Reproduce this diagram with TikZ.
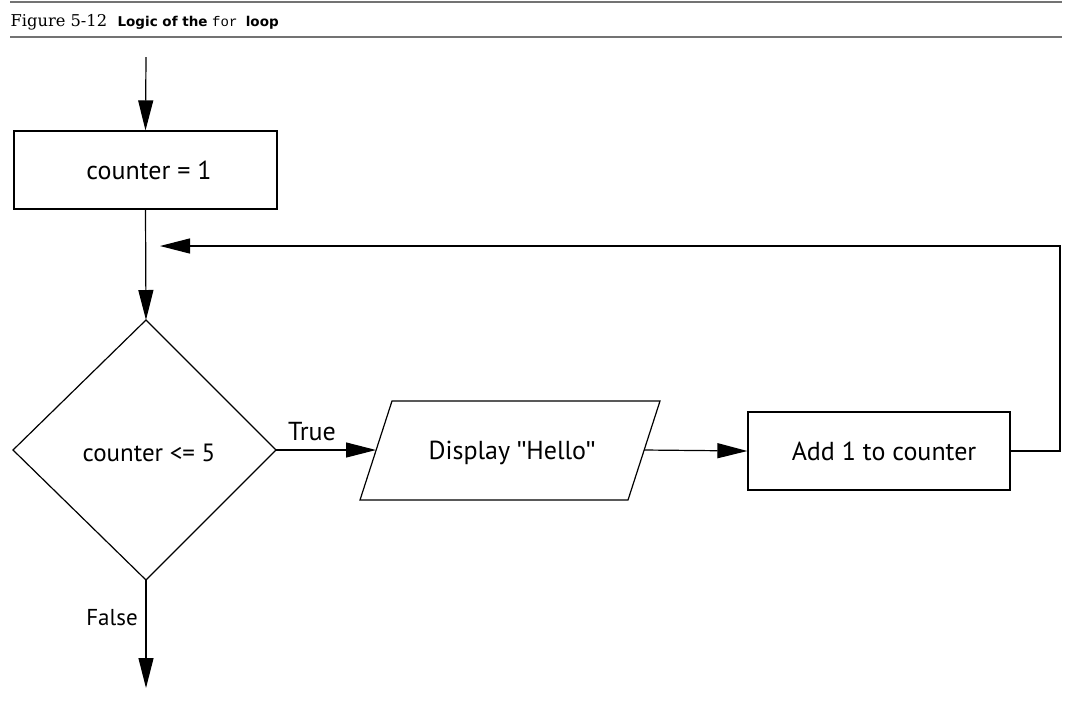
\documentclass[tikz,border=0pt]{standalone}
\usepackage{graphicx}
\usepackage{fontspec}
\setmainfont{DejaVu Serif}
\setsansfont{PT Sans}
\setmonofont{Liberation Mono}
\newfontfamily\capsans{DejaVu Sans}
\newfontfamily\qfont{Liberation Sans}
\newcommand{\sq}{{\qfont\symbol{34}}}
\usetikzlibrary{arrows.meta,shapes.geometric}
\begin{document}
\begin{tikzpicture}[x=1pt,y=-1pt,
  line width=1.2pt,
  arr/.style={-{Triangle[length=30pt,width=15pt]}},
  lbl/.style={font=\sffamily\fontsize{26}{30}\selectfont, inner sep=0pt},
  rule/.style={draw=black!55, line width=1.5pt}]
\useasboundingbox (0,0) rectangle (1086,724);
% caption rules
\draw[rule] (10,2) -- (1062,2);
\draw[rule] (10,37) -- (1062,37);
\node[anchor=base west, inner sep=0pt] (figno) at (10,26) {\scalebox{1.05}{\fontsize{15.5}{18}\selectfont Figure 5-12}};
\node[anchor=base west, inner sep=0pt] (figttl) at (117,26) {\capsans\bfseries\fontsize{13.5}{16}\selectfont Logic of the \mdseries\ttfamily\fontsize{14}{16}\selectfont for \capsans\bfseries\fontsize{13.5}{16}\selectfont loop};
% nodes
\coordinate (start) at (146,57);
\node[draw, minimum width=263pt, minimum height=78pt, inner sep=0pt] (init) at (145.5,170) {};
\node[lbl] (initT) at (149,170) {counter = 1};
\draw (146,320) -- (276,450) -- (146,580) -- (13,450) -- cycle;
\coordinate (dtop) at (146,320);
\coordinate (dright) at (276,450);
\coordinate (dbot) at (146,580);
\node[lbl] (condT) at (149,453) {\scalebox{0.96}{counter <= 5}};
\draw (392,401) -- (660,401) -- (628,500) -- (360,500) -- cycle;
\coordinate (pleft) at (376,450);
\coordinate (pright) at (644,450);
\node[lbl] (dispT) at (512,453) {Display \sq Hello\sq};
\node[draw, minimum width=262pt, minimum height=78pt, inner sep=0pt] (add) at (879,451) {};
\node[lbl] (addT) at (884,451) {Add 1 to counter};
\coordinate (fb) at (160,246);
\coordinate (endpt) at (146,688);
% connectors
\draw[arr] (start) -- (init.north);
\draw[arr] (init.south) -- (dtop);
\draw[arr] (dright) -- (pleft);
\draw[arr] (pright) -- (add.west);
\draw[arr] (add.east) -- (1060,451) -- (1060,246) -- (fb);
\draw[arr] (dbot) -- (endpt);
\node[lbl] (trueL) at (312,432) {True};
\node[lbl, font=\sffamily\fontsize{23}{26}\selectfont] (falseL) at (112,618) {False};
\end{tikzpicture}
\end{document}
